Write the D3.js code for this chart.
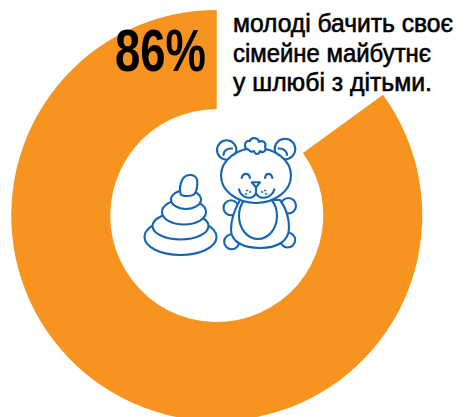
<!DOCTYPE html>
<html><head><meta charset="utf-8">
<style>html,body{margin:0;padding:0;background:#fff;overflow:hidden}svg{display:block}</style>
<script src="https://cdn.jsdelivr.net/npm/d3@7"></script></head>
<body><svg id="c" width="465" height="417"></svg>
<script>
const categories = ["у шлюбі з дітьми", "інше"];
const values = [85, 15];
const headline = "86%";
const captionLines = ["молоді бачить своє", "сімейне майбутнє", "у шлюбі з дітьми."];
const colors = ["#F7941F", "none"];

const svg = d3.select("#c");
const cx = 216.75, cy = 215.5, R = 205.5, r = 106.5;
const arc = d3.arc().innerRadius(r).outerRadius(R);
const g = svg.append("g").attr("transform",`translate(${cx},${cy})`);
const full = d3.pie().sort(null).value(d=>d)(values);
const rot = 2*Math.PI*values[1]/100;
g.selectAll("path").data(full).join("path")
  .attr("d",d=>arc({startAngle:d.startAngle+rot,endAngle:d.endAngle+rot}))
  .attr("fill",(d,i)=>colors[i]);

const font = "'Liberation Sans Narrow','Liberation Sans'";
svg.append("text").text(headline).attr("x",115).attr("y",71)
  .attr("font-family",font).attr("font-weight","700")
  .attr("font-size",60).attr("fill","#000").attr("textLength",91).attr("lengthAdjust","spacingAndGlyphs");
const lineW=[220,198,199], lineY=[32,62,91];
captionLines.forEach((t,i)=>{
  svg.append("text").text(t).attr("x",233).attr("y",lineY[i])
   .attr("font-family",font).attr("font-size",25).attr("fill","#000")
   .attr("stroke","#000").attr("stroke-width",0.6)
   .attr("textLength",lineW[i]).attr("lengthAdjust","spacingAndGlyphs");
});

const blue="#1565B0";
const toy=svg.append("g").attr("fill","#fff").attr("stroke",blue).attr("stroke-width",2.1)
  .attr("stroke-linecap","round").attr("stroke-linejoin","round");
const ell=(x,y,a,b)=>toy.append("ellipse").attr("cx",x).attr("cy",y).attr("rx",a).attr("ry",b);
const line=(d)=>toy.append("path").attr("fill","none").attr("d",d);
// pyramid
ell(180.5,237,36,18); ell(180.5,226,28,13.5); ell(184,212,22,12.5); ell(186,199.5,15,9.5);
toy.append("path").attr("d","M180 190 C180 182 183 175 190 175 C197 175 198 180 197 187 C196 195 193 196 187 196 C181 196 180 195 180 190Z");
// bear
ell(226.7,150,9.7,9.7); ell(285,149,10.3,10.3);
line("M223.5 155 C223.5 151 227 148 232 148.5"); line("M278.5 148.500 C283 148 287 151 287 155");
ell(231,207.7,7.5,7.5); ell(288.3,205.7,7.7,7.7); ell(231.7,241.7,7.5,7.5); ell(287.700,240,7.5,7.5);
toy.append("path").attr("d","M240 200 C233 212 231 222 231 230 C231 242 244 248 260 248 C276 248 289 242 289 228 C289 218 286 208 280 200Z");
ell(258,216,19,23);
ell(256,175.5,35,27.5);
toy.append("path").attr("d","M249 150 C243 148 244 140 250 141 C251 137 258 137 259 142 C262 140 267 142 265 147 C267 150 263 154 260 151 C259 155 255 155 254 151 C252 152 250 152 249 150Z");
line("M241.700 178 C243 172.500 249 172.500 250 178"); line("M265 178 C266 172.500 271 172.500 272.300 178");
toy.append("path").attr("d","M251.700 182.300 L260 182.300 L256 187.300Z");
line("M239 189.300 C241 198 252 201 256 193.300 C260 201 272 198 274.300 189.300");
line("M256 187.300 L256 193.300");
toy.selectAll("circle.dot").data([[247,190.500],[250,192],[246,194],[262,192],[265,190.500],[266,194]])
 .join("circle").attr("class","dot").attr("cx",d=>d[0]).attr("cy",d=>d[1]).attr("r",0.8).attr("stroke-width",0.5).attr("fill",blue);
</script></body></html>
